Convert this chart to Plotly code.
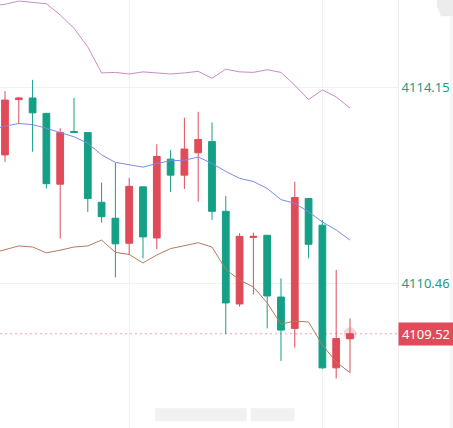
import plotly.graph_objects as go

# ---- data ----
bar_index = list(range(1, 27))
open_ = [4112.88, 4113.92, 4113.95, 4113.66, 4112.33, 4113.32, 4113.30, 4111.99, 4111.69, 4111.22,
         4112.28, 4111.32, 4112.80, 4112.50, 4112.92, 4113.13, 4111.82, 4110.08, 4111.33, 4111.37,
         4110.21, 4109.62, 4112.06, 4111.56, 4108.88, 4109.43]
high = [4114.08, 4113.97, 4114.29, 4113.67, 4113.38, 4113.95, 4113.30, 4112.36, 4112.73, 4112.45,
        4112.28, 4113.08, 4112.97, 4113.58, 4113.69, 4113.49, 4112.11, 4111.41, 4111.42, 4111.37,
        4110.56, 4112.38, 4112.06, 4111.66, 4110.72, 4109.81]
low = [4112.75, 4113.46, 4112.94, 4112.25, 4111.31, 4113.30, 4111.81, 4111.61, 4110.58, 4111.00,
       4110.94, 4111.11, 4112.18, 4112.24, 4112.00, 4111.66, 4109.51, 4110.03, 4110.26, 4109.62,
       4109.01, 4109.26, 4110.94, 4108.86, 4108.68, 4108.79]
close = [4113.91, 4113.95, 4113.67, 4112.34, 4113.30, 4113.30, 4112.06, 4111.72, 4111.21, 4112.29,
         4111.34, 4112.85, 4112.50, 4112.99, 4113.17, 4111.82, 4110.10, 4111.35, 4111.35, 4110.23,
         4109.59, 4112.08, 4111.20, 4108.88, 4109.43, 4109.52]

line_index = list(range(0, 27))
upper_band = [4115.68, 4115.71, 4115.77, 4115.75, 4115.72, 4115.51, 4115.26, 4114.91, 4114.42, 4114.43,
              4114.40, 4114.44, 4114.42, 4114.40, 4114.42, 4114.45, 4114.32, 4114.49, 4114.44, 4114.43,
              4114.48, 4114.43, 4114.19, 4113.92, 4114.10, 4113.97, 4113.76]
middle_band = [4113.35, 4113.42, 4113.47, 4113.45, 4113.38, 4113.30, 4113.22, 4113.10, 4112.88, 4112.74,
               4112.70, 4112.65, 4112.72, 4112.77, 4112.78, 4112.84, 4112.72, 4112.57, 4112.44, 4112.38,
               4112.25, 4112.04, 4111.97, 4111.81, 4111.62, 4111.47, 4111.28]
lower_band = [4111.03, 4111.10, 4111.17, 4111.15, 4111.04, 4111.09, 4111.15, 4111.17, 4111.28, 4111.05,
              4111.01, 4110.85, 4111.00, 4111.12, 4111.17, 4111.23, 4111.15, 4110.73, 4110.53, 4110.40,
              4110.10, 4109.70, 4109.76, 4109.74, 4109.31, 4108.99, 4108.79]

tick_values = [4114.15, 4110.46]
tick_labels = ["4114.15", "4110.46"]
last_price = 4109.52
last_label = "4109.52"
grid_bars = [10, 24]

RED = "#e04b5a"
GREEN = "#14a086"

fig = go.Figure()

fig.add_trace(go.Scatter(x=line_index, y=upper_band, mode="lines",
                         line=dict(color="#c98bc9", width=1), hoverinfo="skip"))
fig.add_trace(go.Scatter(x=line_index, y=middle_band, mode="lines",
                         line=dict(color="#7d8ae6", width=1), hoverinfo="skip"))
fig.add_trace(go.Scatter(x=line_index, y=lower_band, mode="lines",
                         line=dict(color="#b47c5c", width=1), hoverinfo="skip"))

fig.add_trace(go.Candlestick(
    x=bar_index, open=open_, high=high, low=low, close=close,
    increasing=dict(line=dict(color=RED, width=1), fillcolor=RED),
    decreasing=dict(line=dict(color=GREEN, width=1), fillcolor=GREEN),
    whiskerwidth=0, hoverinfo="skip"))

# glow on the live candle
fig.add_trace(go.Scatter(x=[bar_index[-1]], y=[last_price], mode="markers",
                         marker=dict(color="rgba(224,75,90,0.22)", size=13, line=dict(width=0)),
                         hoverinfo="skip"))

# current price dashed line
fig.add_shape(type="line", xref="paper", x0=0, x1=1, yref="y", y0=last_price, y1=last_price,
              line=dict(color="#f2a2ab", width=1, dash="2px,3px"), layer="below")

# current price label
fig.add_annotation(xref="paper", x=1.0, yref="y", y=last_price, text=last_label,
                   showarrow=False, xanchor="left", yanchor="middle",
                   bgcolor=RED, font=dict(color="white", size=13, family="Noto Sans"),
                   borderpad=2, width=50, align="center")

# top-right grey control, right-edge strip and blurred watermark
fig.add_shape(type="path", xref="paper", yref="paper",
              path="M 1.098 1.0 L 1.14 1.0 L 1.14 0.962 L 1.108 0.962 L 1.098 0.985 Z",
              fillcolor="#ececec", line=dict(width=0))
fig.add_shape(type="rect", xref="paper", yref="paper", x0=1.13, x1=1.14, y0=0.0, y1=0.962,
              fillcolor="#f6f6f6", line=dict(width=0))
fig.add_shape(type="rect", xref="paper", yref="paper", x0=0.39, x1=0.62, y0=0.016, y1=0.046,
              fillcolor="#f1f1f1", line=dict(width=0))
fig.add_shape(type="rect", xref="paper", yref="paper", x0=0.63, x1=0.74, y0=0.016, y1=0.046,
              fillcolor="#f1f1f1", line=dict(width=0))

fig.update_layout(
    width=453, height=428,
    margin=dict(l=0, r=55, t=0, b=0),
    paper_bgcolor="white", plot_bgcolor="white",
    showlegend=False,
    xaxis=dict(range=[0.638, 29.48], rangeslider=dict(visible=False),
               tickvals=grid_bars, showticklabels=False, showgrid=True,
               gridcolor="#f1f1f1", gridwidth=1, zeroline=False, ticks=""),
    yaxis=dict(range=[4107.75, 4115.79], side="right", tickvals=tick_values, ticktext=tick_labels,
               showgrid=True, gridcolor="#f1f1f1", zeroline=False, ticks="",
               showline=True, linecolor="#ececec", linewidth=1,
               tickfont=dict(color="#1c9c84", size=13, family="Noto Sans")),
)

fig.write_html("out.html", config={"displayModeBar": False})
